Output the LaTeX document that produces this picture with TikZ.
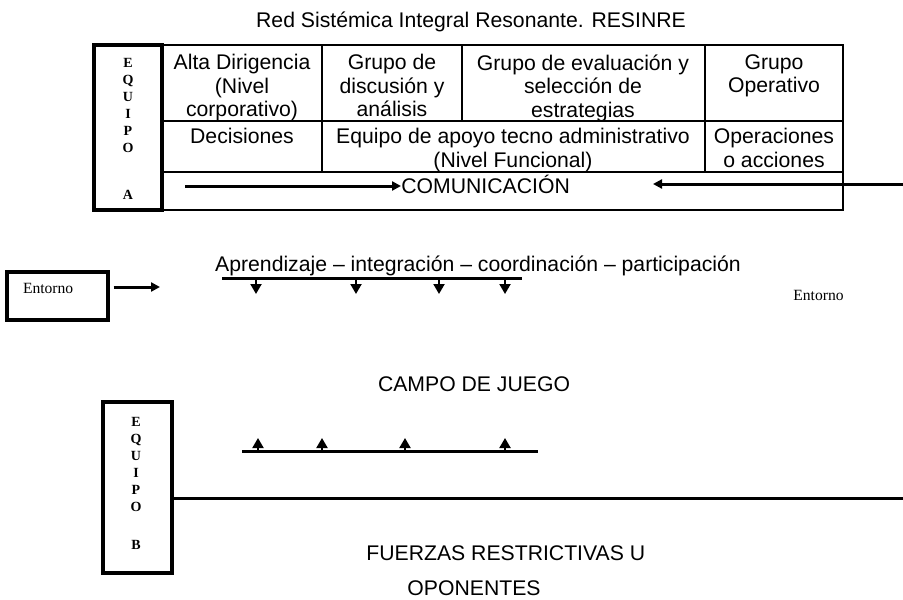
\documentclass[tikz,border=0pt]{standalone}
\usepackage{fontspec}
\setmainfont{Liberation Sans}
\newfontfamily\boxserif{Liberation Serif}
\usetikzlibrary{arrows.meta}

\begin{document}
\begin{tikzpicture}[
  x=0.5pt, y=-0.5pt,
  txt/.style={inner sep=0pt, anchor=base, font=\fontsize{10.6}{11.8}\selectfont},
  cell/.style={inner sep=0pt, anchor=north, align=center, font=\fontsize{10.6}{11.8}\selectfont},
  team/.style={draw, line width=1.8pt, inner sep=0pt},
  letters/.style={inner sep=0pt, anchor=north, align=center, font=\boxserif\bfseries\fontsize{7}{8.5}\selectfont},
  small/.style={font=\boxserif\fontsize{7.8}{9}\selectfont},
  grid/.style={line width=0.6pt},
  bar/.style={line width=1.5pt},
  flow/.style={line width=1.5pt, -{Triangle[length=4.5pt,width=4.5pt]}},
  tick/.style={line width=1pt, -{Triangle[length=5pt,width=5.5pt]}}
]
\useasboundingbox (0,0) rectangle (903,599);

\node[txt] (title) at (471,27.5) {Red Sistémica Integral Resonante. RESINRE};

% Equipo A and the table
\node[team, minimum width=34pt, minimum height=82.5pt] (equipoA) at (128,127.5) {};
\node[letters] (lettersA) at (128,58) {E\\Q\\U\\I\\P\\O\\[15pt]A};

\draw[grid] (162,45) rectangle (843,210);
\draw[grid] (162,121) -- (843,121);
\draw[grid] (162,172) -- (843,172);
\foreach \x/\ylow in {322/172, 462/121, 705/172}
  \draw[grid] (\x,45) -- (\x,\ylow);

\node[cell] (alta) at (242,54) {Alta Dirigencia\\(Nivel\\corporativo)};
\node[cell] (discusion) at (392,54) {Grupo de\\discusión y\\análisis};
\node[cell] (evaluacion) at (583,54) {Grupo de evaluación y\\selección de\\estrategias};
\node[cell] (operativo) at (774,54) {Grupo\\Operativo};
\node[cell] (decisiones) at (242,128) {Decisiones};
\node[cell] (apoyo) at (513,128) {Equipo de apoyo tecno administrativo\\(Nivel Funcional)};
\node[cell] (acciones) at (774,128) {Operaciones\\o acciones};

% Comunicacion
\node[txt, anchor=base west] (comm) at (401,193) {COMUNICACIÓN};
\coordinate (commL) at (185,186);
\coordinate (commR) at (903,184);
\coordinate (commTip) at (653,184);
\draw[flow] (commL) -- (commL -| comm.west);
\draw[flow] (commR) -- (commTip);

% Entorno
\node[team, line width=1.7pt, minimum width=50.5pt, minimum height=24pt, inner xsep=8pt,
  text width=34.5pt, align=left, text height=5pt, text depth=8pt, small] (entornoL) at (57.5,296) {Entorno};
\coordinate (envTip) at (160,287);
\draw[flow, shorten <=2pt] (entornoL.east |- envTip) -- (envTip);
\node[small, inner sep=0pt, anchor=base west] (entornoR) at (793,300) {Entorno};

% valores del equipo
\node[txt] (valores) at (478,271) {Aprendizaje – integración – coordinación – participación};
\coordinate (topL) at (222,278);
\coordinate (topR) at (522,278);
\draw[bar] (topL) -- (topR);
\foreach \x in {256,356,439,505}
  \draw[tick] (\x,278) -- ++(0,16);

\node[txt] (campo) at (474,391.5) {CAMPO DE JUEGO};

% Equipo B
\node[team, minimum width=34.5pt, minimum height=85.5pt] (equipoB) at (137.5,487.5) {};
\node[letters] (lettersB) at (136,417) {E\\Q\\U\\I\\P\\O\\[10.5pt]B};

\coordinate (botL) at (242,451);
\coordinate (botR) at (538,451);
\draw[bar] (botL) -- (botR);
\foreach \x in {258,322,405,505}
  \draw[tick] (\x,451) -- ++(0,-13);

\coordinate (fieldEnd) at (903,498);
\draw[bar] (equipoB.east |- fieldEnd) -- (fieldEnd);

\node[txt, anchor=base west] (fuerzas) at (366,560.5) {FUERZAS RESTRICTIVAS U};
\node[txt] (oponentes) at (474,595.5) {OPONENTES};
\end{tikzpicture}
\end{document}
